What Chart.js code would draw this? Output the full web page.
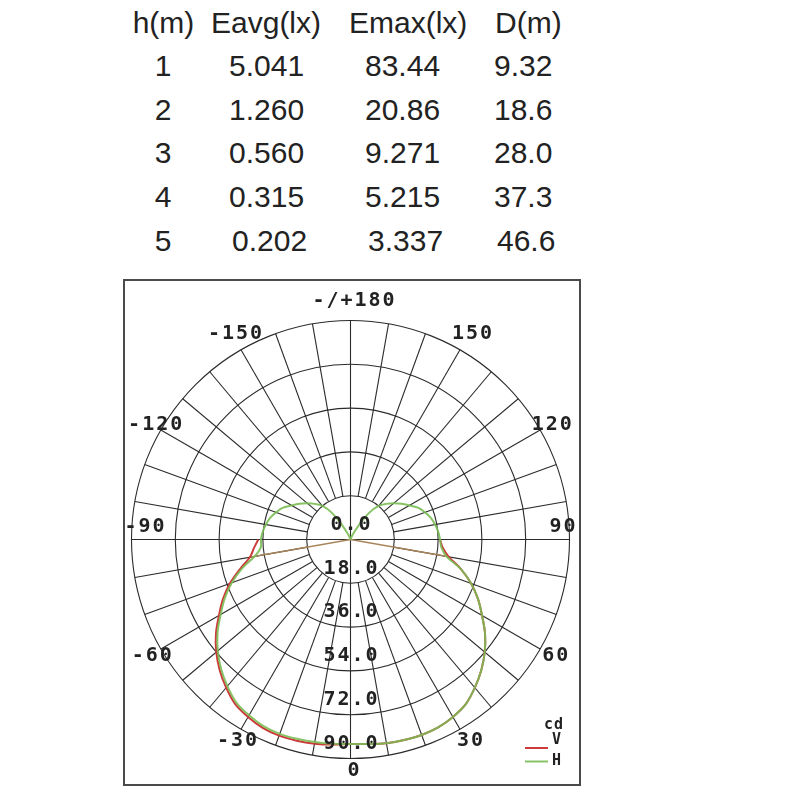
<!DOCTYPE html>
<html>
<head>
<meta charset="utf-8">
<script src="https://cdn.jsdelivr.net/npm/chart.js@4.4.1/dist/chart.umd.min.js"></script>
<style>
  body { margin: 0; background: #fff; width: 800px; height: 800px; position: relative; overflow: hidden; }
  #table span { position: absolute; font-family: "Liberation Sans", Arial, sans-serif; font-size: 30px; line-height: 30px; color: #222; white-space: nowrap; }
  #box { position: absolute; left: 123px; top: 279px; width: 454px; height: 503px; border: 2px solid #4a4a4a; }
  #polar { display: block; }
</style>
</head>
<body>
<div id="table"></div>
<div id="box"><canvas id="polar" width="454" height="503"></canvas></div>
<script>
// table above the diagram
const tableHeader = ['h(m)', 'Eavg(lx)', 'Emax(lx)', 'D(m)'];
const heights = ['1', '2', '3', '4', '5'];
const eavg = ['5.041', '1.260', '0.560', '0.315', '0.202'];
const emax = ['83.44', '20.86', '9.271', '5.215', '3.337'];
const dist = ['9.32', '18.6', '28.0', '37.3', '46.6'];

// polar diagram: ring ticks (cd) and angle labels
const ringTicks = [0, 18, 36, 54, 72, 90];
const angleLabels = [180, 150, 120, 90, 60, 30, 0, -30, -60, -90, -120, -150];
const spokeStep = 10;

// V plane (C0-C180), lower hemisphere
const vAngles = [-90, -85, -80, -75, -70, -65, -60, -55, -50, -45, -40, -35, -30, -25, -20, -15, -10, -5,
  0, 5, 10, 15, 20, 25, 30, 35, 40, 45, 50, 55, 60, 65, 70, 75, 80, 85, 90];
const vValues = [37.9, 39.8, 42, 47, 52.7, 57.8, 62.4, 67.5, 72, 76, 79.5, 82.6, 84.2, 85.4, 85.8, 85.6, 85.2, 84.6,
  84, 84.4, 85, 85.3, 85.5, 85.2, 84.2, 82.6, 79.5, 76, 72, 67.5, 62.4, 57.8, 52.7, 47, 41, 38, 36.8];

// H plane (C90-C270), full circle
const hAngles = [-180, -175, -170, -165, -160, -155, -150, -145, -140, -135, -130, -125, -120, -115, -110, -105, -100, -95, -90,
  -85, -80, -75, -70, -65, -60, -55, -50, -45, -40, -35, -30, -25, -20, -15, -10, -5,
  0, 5, 10, 15, 20, 25, 30, 35, 40, 45, 50, 55, 60, 65, 70, 75, 80, 85,
  90, 95, 100, 105, 110, 115, 120, 125, 130, 135, 140, 145, 150, 155, 160, 165, 170, 175, 180];
const hValues = [0, 0, 0, 0.2, 0.7, 2.5, 6.5, 13.5, 18, 20.7, 23.2, 25.6, 28, 30.8, 32.6, 34.2, 35.3, 36.2, 36.8,
  37, 40, 46.2, 51.9, 57, 61.6, 66.7, 71.2, 75.2, 78.7, 81.8, 83.4, 84.6, 85, 84.8, 84.5, 84.3,
  84, 84.4, 85, 85.3, 85.5, 85.2, 84.2, 82.6, 79.5, 76, 72, 67.5, 62.4, 57.8, 52.7, 47, 40, 37.5,
  36.8, 36.2, 35.3, 34.2, 32.6, 30.8, 28, 25.6, 23.2, 20.7, 18, 13.5, 6.5, 2.5, 0.7, 0.2, 0, 0, 0];

// build the table
const tableEl = document.getElementById('table');
function addCell(text, left, baseline, center) {
  const s = document.createElement('span');
  s.textContent = text;
  s.style.top = (baseline - 25.4) + 'px';
  if (center) {
    s.style.left = (left - 40) + 'px';
    s.style.width = '80px';
    s.style.textAlign = 'center';
  } else {
    s.style.left = left + 'px';
  }
  tableEl.appendChild(s);
}
const headLeft = [163.5, 211, 349, 495];
tableHeader.forEach((t, i) => addCell(t, headLeft[i], 33, i === 0));
for (let r = 0; r < heights.length; r++) {
  const base = 33 + 43.6 * (r + 1);
  const shift = r === 4 ? 3 : 0;
  addCell(heights[r], 163, base, true);
  addCell(eavg[r], 229 + shift, base);
  addCell(emax[r], 365 + shift, base);
  addCell(dist[r], 494 + shift, base);
}

// polar -> cartesian, 0 deg pointing down, positive angles to the right
function toXY(angle, value) {
  const a = angle * Math.PI / 180;
  return { x: value * Math.sin(a), y: -value * Math.cos(a) };
}

const vPoints = vAngles.map((a, i) => toXY(a, vValues[i]));
const hPoints = hAngles.map((a, i) => toXY(a, hValues[i]));
// V curve is closed back to the origin from +-80 deg
const closePoints = [toXY(-80, vValues[vAngles.indexOf(-80)]), { x: 0, y: 0 }, toXY(80, vValues[vAngles.indexOf(80)])];

const FONT = '"DejaVu Sans Mono", "Liberation Mono", monospace';

// distance (px) of each angle label from the centre
function labelRadius(a) {
  const m = Math.abs(a);
  if (m === 180) return 239;
  if (m === 150) return 237;
  if (m === 120) return 229;
  if (m === 90) return 209;
  if (m === 0) return 231;
  return 233;
}

const polarGrid = {
  id: 'polarGrid',
  beforeDatasetsDraw(chart) {
    const { ctx, scales: { x, y } } = chart;
    const cx = x.getPixelForValue(0), cy = y.getPixelForValue(0);
    const pix = (a, r) => { const p = toXY(a, r); return [x.getPixelForValue(p.x), y.getPixelForValue(p.y)]; };
    ctx.save();
    ctx.strokeStyle = '#2b2b2b';
    ctx.lineWidth = 1.1;
    ringTicks.slice(1).forEach(v => {
      ctx.beginPath();
      ctx.arc(cx, cy, x.getPixelForValue(v) - cx, 0, Math.PI * 2);
      ctx.stroke();
    });
    const outer = ringTicks[ringTicks.length - 1];
    for (let a = 0; a < 360; a += spokeStep) {
      const from = a % 90 === 0 ? 0 : ringTicks[1];
      const p1 = pix(a, from), p2 = pix(a, outer);
      ctx.beginPath();
      ctx.moveTo(p1[0], p1[1]);
      ctx.lineTo(p2[0], p2[1]);
      ctx.stroke();
    }
    ctx.restore();
  },
  afterDatasetsDraw(chart) {
    const { ctx, scales: { x, y } } = chart;
    const cx = x.getPixelForValue(0);
    const k = x.getPixelForValue(1) - cx;
    ctx.save();
    ctx.fillStyle = '#222';
    ctx.font = 'bold 20px ' + FONT;
    ctx.letterSpacing = '2px';
    ctx.textAlign = 'center';
    ctx.textBaseline = 'middle';
    // ring values along the vertical axis
    ringTicks.forEach(v => {
      ctx.fillText(v.toFixed(1), cx + 1, y.getPixelForValue(-v) - 15);
    });
    // angle labels around the rim
    angleLabels.forEach(a => {
      const txt = a === 180 ? '-/+180' : String(a);
      const side = Math.abs(a) === 90;
      const p = toXY(a, labelRadius(a) / k);
      ctx.fillText(txt, x.getPixelForValue(p.x) + 4, y.getPixelForValue(p.y) - (side ? 12.5 : 0));
    });
    // legend
    ctx.font = 'bold 15px ' + FONT;
    ctx.letterSpacing = '1px';
    ctx.fillText('cd', 429, 444);
    const items = chart.data.datasets.filter(d => d.label === 'V' || d.label === 'H');
    items.sort((a, b) => (a.label === 'V' ? -1 : 1));
    const lineY = [467, 480.5], textY = [459, 480];
    items.forEach((d, i) => {
      ctx.strokeStyle = d.borderColor;
      ctx.lineWidth = 2;
      ctx.beginPath();
      ctx.moveTo(400, lineY[i]);
      ctx.lineTo(423, lineY[i]);
      ctx.stroke();
      ctx.fillText(d.label, 432, textY[i]);
    });
    ctx.restore();
  }
};

const k = 219 / 90; // px per cd
const cxPx = 225.5, cyPx = 258.5;

new Chart(document.getElementById('polar'), {
  type: 'scatter',
  data: {
    datasets: [
      { label: 'H', data: hPoints, showLine: true, borderColor: 'rgba(122,188,84,0.9)', borderWidth: 2, tension: 0.35, pointRadius: 0, order: 0 },
      { label: 'V', data: vPoints, showLine: true, borderColor: '#cc3a3a', borderWidth: 2, tension: 0.35, pointRadius: 0, order: 1 },
      { label: 'close', data: closePoints, showLine: true, borderColor: '#a8855a', borderWidth: 1.5, tension: 0, pointRadius: 0, order: 2 }
    ]
  },
  options: {
    responsive: false,
    animation: false,
    layout: { padding: 0 },
    plugins: { legend: { display: false }, tooltip: { enabled: false } },
    scales: {
      x: { type: 'linear', display: false, min: -cxPx / k, max: (454 - cxPx) / k },
      y: { type: 'linear', display: false, min: -(503 - cyPx) / k, max: cyPx / k }
    }
  },
  plugins: [polarGrid]
});
</script>
</body>
</html>
